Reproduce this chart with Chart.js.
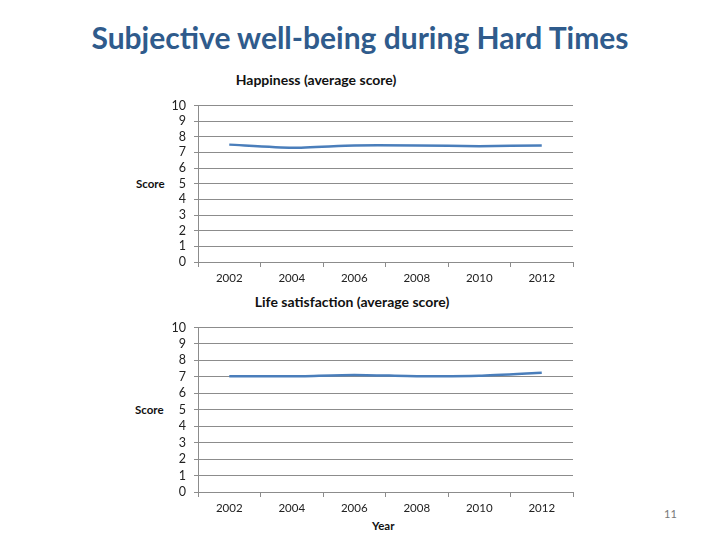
<!DOCTYPE html>
<html>
<head>
<meta charset="utf-8">
<script src="https://cdn.jsdelivr.net/npm/chart.js@4"></script>
<style>
  body { margin: 0; background: #fff; }
  #slide { position: relative; width: 720px; height: 540px; overflow: hidden; font-family: Lato, "Open Sans", sans-serif; }
  .txt { position: absolute; white-space: nowrap; }
  #mainTitle { left: 0; width: 720px; top: 19px; text-align: center; font-size: 30px; font-weight: bold; color: #2f5b8c; }
  .ctitle { font-size: 14px; font-weight: bold; color: #111; transform: translateX(-50%); }
  .score { font-size: 11.5px; font-weight: bold; color: #111; }
  #pageNum { left: 664px; top: 507px; font-size: 11px; color: #777; }
  canvas { position: absolute; }
</style>
</head>
<body>
<div id="slide">
  <div class="txt" id="mainTitle">Subjective well-being during Hard Times</div>

  <div class="txt ctitle" style="left:316px; top:71px;">Happiness (average score)</div>
  <div class="txt score" style="left:136px; top:177px;">Score</div>
  <canvas id="happyChart" style="left:120px; top:90px;" width="460" height="200"></canvas>

  <div class="txt ctitle" style="left:352px; top:293px;">Life satisfaction (average score)</div>
  <div class="txt score" style="left:135px; top:403px;">Score</div>
  <div class="txt score" style="left:372px; top:519px;">Year</div>
  <canvas id="lifeChart" style="left:120px; top:312px;" width="460" height="200"></canvas>

  <div class="txt" id="pageNum">11</div>
</div>
<script>
// ── Data ──
const years = ['2002', '2004', '2006', '2008', '2010', '2012'];
const happiness = [7.5, 7.3, 7.45, 7.45, 7.4, 7.45];
const lifeSatisfaction = [7.04, 7.03, 7.12, 7.04, 7.06, 7.25];
const scoreTicks = [0, 1, 2, 3, 4, 5, 6, 7, 8, 9, 10];

const colors = {
  line: '#4a7ebb',
  grid: '#8c8c8c',
  text: '#222',
};

// plot area inside each canvas: x 78..452, height set by padding/afterFit
function makeChart(id, data, plotTop, plotBottom) {
  const ctx = document.getElementById(id);
  const h = ctx.height;
  return new Chart(ctx, {
    type: 'line',
    data: {
      labels: years,
      datasets: [{
        data: data,
        borderColor: colors.line,
        borderWidth: 2.5,
        pointRadius: 0,
        tension: 0.2,
        fill: false,
      }],
    },
    options: {
      responsive: false,
      animation: false,
      layout: { padding: { top: plotTop, right: 7, left: 0, bottom: 0 } },
      plugins: { legend: { display: false }, tooltip: { enabled: false } },
      scales: {
        x: {
          offset: true,
          grid: { offset: true, drawOnChartArea: false, drawTicks: true, tickLength: 5, color: colors.grid },
          border: { display: true, color: colors.grid },
          ticks: { color: colors.text, font: { family: 'Lato', size: 11.5 }, padding: 4, maxRotation: 0 },
          afterFit: s => { s.height = h - plotBottom; },
        },
        y: {
          min: 0,
          max: 10,
          afterBuildTicks: s => { s.ticks = scoreTicks.map(v => ({ value: v })); },
          grid: { color: colors.grid, tickLength: 4, drawTicks: true },
          border: { display: true, color: colors.grid },
          ticks: { color: colors.text, font: { family: 'Lato', size: 12.5 }, padding: 8, autoSkip: false },
          afterFit: s => { s.width = 78; },
        },
      },
    },
  });
}

// happiness: plot y 104..262 on page -> canvas top 90
makeChart('happyChart', happiness, 14, 172);
// life satisfaction: plot y 327..492 on page -> canvas top 312
makeChart('lifeChart', lifeSatisfaction, 15, 180);
</script>
</body>
</html>
